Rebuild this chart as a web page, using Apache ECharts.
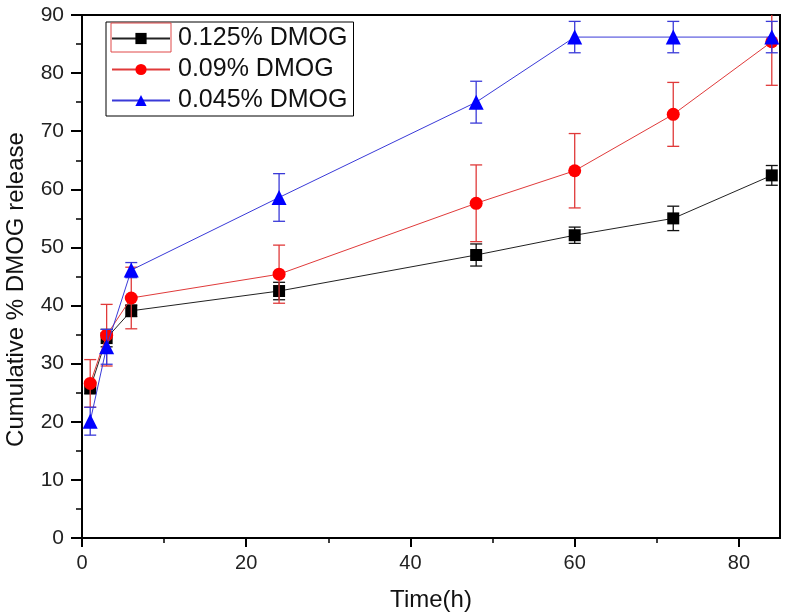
<!DOCTYPE html>
<html>
<head>
<meta charset="utf-8">
<script src="https://cdn.jsdelivr.net/npm/echarts@6/dist/echarts.min.js"></script>
<style>
html,body{margin:0;padding:0;background:#fff;}
#chart{width:787px;height:615px;}
</style>
</head>
<body>
<div id="chart"></div>
<script>
// ---- data ----
const times = [1, 3, 6, 24, 48, 60, 72, 84];
const seriesNames = ['0.125% DMOG', '0.09% DMOG', '0.045% DMOG'];
const black = [25.8, 34.4, 39.1, 42.5, 48.7, 52.1, 55.0, 62.4];
const blackErr = [1.0, 1.5, 1.0, 1.5, 1.9, 1.4, 2.1, 1.7];
const red = [26.6, 34.9, 41.3, 45.4, 57.6, 63.2, 72.9, 85.4];
const redErr = [4.1, 5.3, 5.3, 5.0, 6.6, 6.4, 5.5, 7.5];
const blue = [20.1, 32.9, 46.1, 58.6, 75.0, 86.2, 86.2, 86.2];
const blueErr = [2.4, 3.0, 1.3, 4.1, 3.6, 2.7, 2.7, 2.7];
const xMajorTicks = [0, 20, 40, 60, 80];
const xMinorTicks = [10, 30, 50, 70];

const FONT = '"Liberation Sans", Arial, sans-serif';

function pts(vals) { return times.map((t, i) => [t, vals[i]]); }
function errPts(vals, errs) { return times.map((t, i) => [t, vals[i] - errs[i], vals[i] + errs[i]]); }

function errRender(color) {
  return function (params, api) {
    const x = api.value(0), lo = api.value(1), hi = api.value(2);
    const pHi = api.coord([x, hi]);
    const pLo = api.coord([x, lo]);
    const w = 6;
    const style = { stroke: color, lineWidth: 1.3, fill: null };
    return {
      type: 'group',
      children: [
        { type: 'line', shape: { x1: pHi[0], y1: pHi[1], x2: pLo[0], y2: pLo[1] }, style: style },
        { type: 'line', shape: { x1: pHi[0] - w, y1: pHi[1], x2: pHi[0] + w, y2: pHi[1] }, style: style },
        { type: 'line', shape: { x1: pLo[0] - w, y1: pLo[1], x2: pLo[0] + w, y2: pLo[1] }, style: style }
      ]
    };
  };
}

const colors = { black: '#000000', red: '#ff0000', blue: '#0000ff' };
const lineColors = { black: '#222222', red: '#e03a3a', blue: '#3a3ad8' };

const chart = echarts.init(document.getElementById('chart'));
chart.setOption({
  animation: false,
  backgroundColor: '#ffffff',
  grid: { left: 82, right: 7, top: 15, bottom: 77, containLabel: false, outerBoundsMode: 'none',
          show: true, borderColor: '#000', borderWidth: 2, backgroundColor: 'transparent' },
  legend: {
    orient: 'vertical',
    left: 106, top: 22,
    padding: [4, 6, 3, 5],
    borderColor: '#000', borderWidth: 1,
    itemWidth: 58, itemHeight: 14, itemGap: 6,
    data: seriesNames,
    textStyle: { fontFamily: FONT, fontSize: 25, color: '#111', lineHeight: 24, padding: [0, 0, 0, 3] }
  },
  graphic: [
    { type: 'rect', shape: { x: 111, y: 23, width: 60, height: 29 }, style: { fill: null, stroke: '#e04848', lineWidth: 1 }, z: 100 }
  ],
  xAxis: [
    {
      type: 'value', min: 0, max: 85, interval: 10,
      axisLine: { show: true, lineStyle: { color: '#000', width: 2 } },
      axisTick: { show: true, inside: false, length: 9, customValues: xMajorTicks, lineStyle: { color: '#000', width: 2 } },
      axisLabel: { customValues: xMajorTicks, fontFamily: FONT, fontSize: 20, color: '#222', margin: 15 },
      splitLine: { show: false },
      name: 'Time(h)', nameLocation: 'middle', nameGap: 50,
      nameTextStyle: { fontFamily: FONT, fontSize: 24, color: '#111' }
    },
    {
      type: 'value', min: 0, max: 85, interval: 10, position: 'bottom',
      axisLine: { show: false },
      axisTick: { show: true, inside: false, length: 5, customValues: xMinorTicks, lineStyle: { color: '#000', width: 1.5 } },
      axisLabel: { show: false },
      splitLine: { show: false }
    }
  ],
  yAxis: {
    type: 'value', min: 0, max: 90, interval: 10,
    axisLine: { show: true, lineStyle: { color: '#000', width: 2 } },
    axisTick: { show: true, inside: false, length: 11, lineStyle: { color: '#000', width: 2 } },
    minorTick: { show: true, splitNumber: 2, length: 6, lineStyle: { color: '#000', width: 1.5 } },
    axisLabel: { fontFamily: FONT, fontSize: 21, color: '#222', margin: 18 },
    splitLine: { show: false },
    name: 'Cumulative % DMOG release', nameLocation: 'middle', nameGap: 54,
    nameTextStyle: { fontFamily: FONT, fontSize: 24, color: '#111', padding: [0, 26, 0, 0] }
  },
  series: [
    { type: 'custom', name: 'err0', renderItem: errRender('#111'), data: errPts(black, blackErr), clip: true, z: 2, silent: true },
    { type: 'line', name: seriesNames[0], data: pts(black), symbol: 'rect', symbolSize: 12,
      lineStyle: { color: lineColors.black, width: 1 }, itemStyle: { color: colors.black }, z: 3 },
    { type: 'custom', name: 'err1', renderItem: errRender('#e03a3a'), data: errPts(red, redErr), clip: true, z: 4, silent: true },
    { type: 'line', name: seriesNames[1], data: pts(red), symbol: 'circle', symbolSize: 13,
      lineStyle: { color: lineColors.red, width: 1 }, itemStyle: { color: colors.red }, z: 5 },
    { type: 'custom', name: 'err2', renderItem: errRender('#3a3ad8'), data: errPts(blue, blueErr), clip: true, z: 6, silent: true },
    { type: 'line', name: seriesNames[2], data: pts(blue), symbol: 'triangle', symbolSize: 15,
      lineStyle: { color: lineColors.blue, width: 1 }, itemStyle: { color: colors.blue }, z: 7 }
  ]
});
</script>
</body>
</html>
